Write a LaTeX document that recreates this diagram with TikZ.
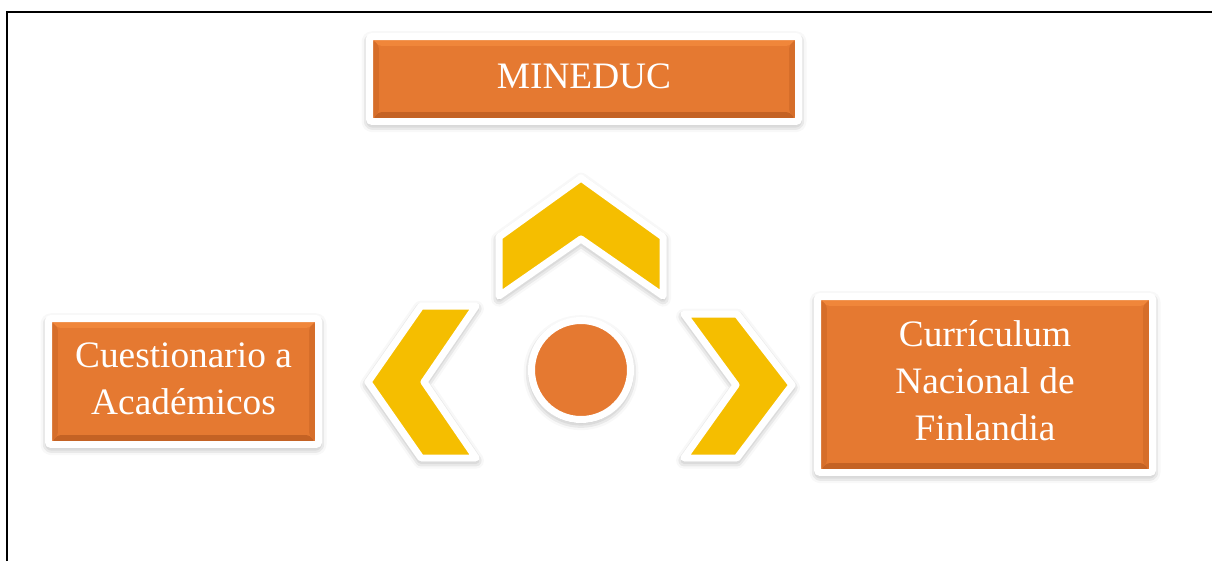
\documentclass[tikz,border=0pt]{standalone}
\usepackage{fontspec}
\setmainfont{Liberation Serif}
\usetikzlibrary{positioning,shadows.blur}

\definecolor{naranja}{RGB}{229,121,49}
\definecolor{naranjaosc}{RGB}{196,98,36}
\definecolor{naranjamed}{RGB}{214,110,42}
\definecolor{naranjaclr}{RGB}{240,134,58}
\definecolor{amarillo}{RGB}{245,190,0}

\newcommand{\rotulo}[1]{\raisebox{4.5pt}{\begin{tabular}{@{}c@{}}#1\end{tabular}}}

\tikzset{
  sombra/.style={blur shadow={shadow xshift=0pt,shadow yshift=-2pt,shadow blur radius=6pt,shadow opacity=45}},
  bisel/.style={path picture={
    \fill[naranjaosc] ([shift={(2.6pt,2.6pt)}]path picture bounding box.south west)
      -- ([shift={(-2.6pt,2.6pt)}]path picture bounding box.south east)
      -- ([shift={(-7pt,7pt)}]path picture bounding box.south east)
      -- ([shift={(7pt,7pt)}]path picture bounding box.south west) -- cycle;
    \fill[naranjaclr] ([shift={(2.6pt,-2.6pt)}]path picture bounding box.north west)
      -- ([shift={(-2.6pt,-2.6pt)}]path picture bounding box.north east)
      -- ([shift={(-7pt,-7pt)}]path picture bounding box.north east)
      -- ([shift={(7pt,-7pt)}]path picture bounding box.north west) -- cycle;
    \fill[naranjamed] ([shift={(2.6pt,2.6pt)}]path picture bounding box.south west)
      -- ([shift={(2.6pt,-2.6pt)}]path picture bounding box.north west)
      -- ([shift={(7pt,-7pt)}]path picture bounding box.north west)
      -- ([shift={(7pt,7pt)}]path picture bounding box.south west) -- cycle;
    \fill[naranjamed] ([shift={(-2.6pt,2.6pt)}]path picture bounding box.south east)
      -- ([shift={(-2.6pt,-2.6pt)}]path picture bounding box.north east)
      -- ([shift={(-7pt,-7pt)}]path picture bounding box.north east)
      -- ([shift={(-7pt,7pt)}]path picture bounding box.south east) -- cycle;
  }},
  caja/.style={rectangle, fill=naranja, draw=white, line width=5.25pt, rounded corners=2pt,
    text=white, inner sep=0pt, font=\fontsize{28}{35.25}\selectfont, sombra, bisel},
  chevron/.style={fill=amarillo, draw=white, line width=5.25pt, line join=round, sombra},
}

\begin{document}
\begin{tikzpicture}[x=0.75pt,y=-0.75pt]
	\useasboundingbox (0,0) rectangle (1212,561);
	\draw[line width=1.5pt] (7,561) -- (7,12) -- (1212,12);

	\node[caja,minimum width=321.75pt,minimum height=63.75pt] (mineduc) at (584,79) {\rotulo{MINEDUC}};
	\node[caja,minimum width=202.5pt,minimum height=94.5pt] (cuest) at (183.5,381.5) {\rotulo{Cuestionario a\\Académicos}};
	\node[caja,minimum width=251.25pt,minimum height=132pt] (curric) at (985,384.5) {\rotulo{Currículum\\Nacional de\\Finlandia}};
	\node[circle,fill=naranja,draw=white,line width=5.25pt,minimum size=74.25pt,sombra] (centro) at (581,370) {};

	% flechas
	\draw[chevron] (581,178) -- (663,237) -- (663,296) -- (581,239) -- (499,296) -- (499,237) -- cycle;
	\draw[chevron] (368,382) -- (421,306) -- (476,306) -- (424,382) -- (476,458) -- (421,458) -- cycle;
	\draw[chevron] (792,385) -- (737,314) -- (684,314) -- (736,385) -- (684,458) -- (737,458) -- cycle;

\end{tikzpicture}
\end{document}
